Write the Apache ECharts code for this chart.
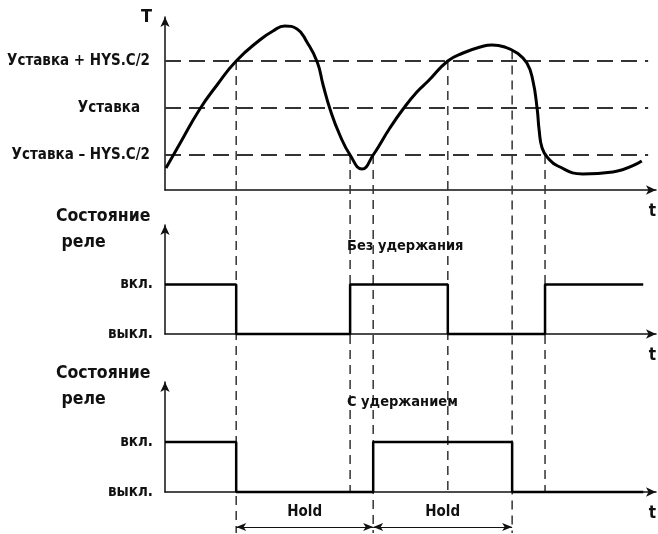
<!DOCTYPE html>
<html><head><meta charset="utf-8">
<script src="https://cdn.jsdelivr.net/npm/echarts@6/dist/echarts.min.js"></script>
<style>html,body{margin:0;padding:0;background:#fff}#c{width:658px;height:534px}</style>
</head><body><div id="c"></div>
<script>
// ---- data ----
const curveTime = [0.2, 3.1, 7.1, 10.6, 14.5, 19.3, 22.0, 24.4, 26.9, 28.9, 31.0, 32.2, 33.6, 35.6, 37.7, 40.1, 42.4, 45.8, 48.5, 51.3, 53.6, 57.6, 60.7, 64.2, 66.6, 69.2, 71.7, 73.7, 74.9, 75.8, 76.2, 76.8, 78.0, 80.0, 85.1, 91.2, 97.1];
const curveTemp = [4.4, 9.4, 16.2, 21.0, 25.8, 30.0, 31.8, 32.8, 32.2, 29.6, 25.6, 21.0, 16.2, 11.0, 7.0, 4.2, 7.0, 12.4, 16.2, 19.6, 21.8, 25.8, 27.4, 28.6, 29.0, 28.6, 27.4, 25.4, 22.0, 16.2, 12.0, 8.4, 6.4, 4.8, 3.2, 3.6, 5.8];
const thresholdValues = [7.0, 16.4, 25.8];
const thresholdLabels = ['Уставка – HYS.C/2', 'Уставка', 'Уставка + HYS.C/2'];
const thresholdEnd = 98.4;
const relayTimesNoHold = [0, 14.5, 37.7, 57.6, 77.4, 97.4];
const relayNoHold = [1, 0, 1, 0, 1, 1];
const relayTimesHold = [0, 14.5, 42.4, 70.7, 97.4];
const relayHold = [1, 0, 1, 0, 0];
const relayTickLabels = ['выкл.', 'вкл.', ''];
const eventTimes = [14.5, 37.7, 42.4, 57.6, 70.7, 77.4];
const eventStartTemp = [25.8, 7.0, 7.0, 25.8, 27.9, 7.0];
const eventIsHoldEdge = [true, false, true, false, true, false];
const holdSpans = [[14.5, 42.4], [42.4, 70.7]];
const holdLabel = 'Hold';
const tempAxisName = 'T';
const timeAxisName = 't';
const relayTitle = 'Состояние\n реле';
const panelTitles = ['Без удержания', 'С удержанием'];

// ---- layout / style ----
const FONT = '"Liberation Sans Narrow","DejaVu Sans Condensed","Roboto Condensed","Arial Narrow",sans-serif';
const INK = '#111';
const DASH = '#333';
const LEFT = 165, RIGHT = 2;
const TOP0 = 17, H0 = 173;
const TEMP_MAX = 34.6;
const OVER_MIN = TEMP_MAX - (534 - 1 - TOP0) / 5;
const HOLD_BOTTOM = OVER_MIN;
const PANEL3_AXIS = (190 - 492) / 5;
const HOLD_ARROW = (190 - 527) / 5;

const chart = echarts.init(document.getElementById('c'), null, {renderer: 'canvas'});

function xAx(gridIndex, show) {
  return {
    type: 'value', gridIndex, min: 0, max: 100, show,
    axisLabel: {show: false}, axisTick: {show: false}, splitLine: {show: false},
    axisLine: {show: true, symbol: ['none', 'arrow'], symbolSize: [7, 10], lineStyle: {color: INK, width: 1.5}},
    name: show ? timeAxisName : '', nameLocation: 'end', nameGap: 0,
    nameTextStyle: {fontFamily: FONT, fontWeight: 'bold', fontSize: 17, color: INK, align: 'right', verticalAlign: 'top', padding: [13, 0, 0, 0]}
  };
}
function relayY(gridIndex) {
  return {
    type: 'value', gridIndex, min: 0, max: 2.2, interval: 1,
    splitLine: {show: false}, axisTick: {show: false},
    axisLine: {show: true, symbol: ['none', 'arrow'], symbolSize: [7, 10], lineStyle: {color: INK, width: 1.5}},
    axisLabel: {margin: 12, formatter: v => relayTickLabels[Math.round(v)] || '', fontFamily: FONT, fontWeight: 'bold', fontSize: 15, color: INK}
  };
}

const thresholdMarks = thresholdValues.map((v, i) => [
  {name: thresholdLabels[i], coord: [0, v], label: {distance: i === 1 ? 25 : 15}},
  {coord: [thresholdEnd, v]}
]);

const guideSeries = eventTimes.map((t, i) => ({
  type: 'line', xAxisIndex: 3, yAxisIndex: 3, symbol: 'none', silent: true, z: 1, clip: false,
  lineStyle: {color: DASH, width: 1.5, type: [9, 6]},
  data: [[t, eventStartTemp[i]], [t, eventIsHoldEdge[i] ? HOLD_BOTTOM : PANEL3_AXIS]]
}));
guideSeries[0].markLine = {
  silent: true, symbol: ['arrow', 'arrow'], symbolSize: [6, 10],
  lineStyle: {color: INK, width: 1, type: 'solid'},
  label: {show: true, position: 'insideMiddleTop', distance: 7, formatter: '{b}', fontFamily: FONT, fontWeight: 'bold', fontSize: 15, color: INK},
  data: holdSpans.map(s => [{name: holdLabel, coord: [s[0], HOLD_ARROW]}, {coord: [s[1], HOLD_ARROW]}])
};

const titleStyle = {fontFamily: FONT, fontWeight: 'bold', fontSize: 17.5, color: INK, lineHeight: 26};
const subStyle = {fontFamily: FONT, fontWeight: 'bold', fontSize: 14.5, color: INK, lineHeight: 18};

chart.setOption({
  animation: false,
  backgroundColor: '#fff',
  title: [
    {text: relayTitle, left: 56, top: 203, padding: 0, textStyle: titleStyle},
    {text: relayTitle, left: 56, top: 360, padding: 0, textStyle: titleStyle},
    {text: panelTitles[0], left: 347, top: 237, padding: 0, textStyle: subStyle},
    {text: panelTitles[1], left: 347, top: 393, padding: 0, textStyle: subStyle}
  ],
  grid: [
    {left: LEFT, right: RIGHT, top: TOP0, height: H0},
    {left: LEFT, right: RIGHT, top: 225, height: 109},
    {left: LEFT, right: RIGHT, top: 382, height: 110},
    {left: LEFT, right: RIGHT, top: TOP0, bottom: 1}
  ],
  xAxis: [xAx(0, true), xAx(1, true), xAx(2, true), Object.assign(xAx(3, false), {show: false})],
  yAxis: [
    {type: 'value', gridIndex: 0, min: 0, max: TEMP_MAX,
     splitLine: {show: false}, axisTick: {show: false}, axisLabel: {show: false},
     axisLine: {show: true, symbol: ['none', 'arrow'], symbolSize: [7, 10], lineStyle: {color: INK, width: 1.5}},
     name: tempAxisName, nameLocation: 'end', nameGap: 0,
     nameTextStyle: {fontFamily: FONT, fontWeight: 'bold', fontSize: 18, color: INK, align: 'right', verticalAlign: 'middle', padding: [0, 13, 0, 0]}},
    relayY(1),
    relayY(2),
    {type: 'value', gridIndex: 3, min: OVER_MIN, max: TEMP_MAX, show: false}
  ],
  series: [
    {type: 'line', xAxisIndex: 0, yAxisIndex: 0, smooth: 0.5, symbol: 'none', z: 3, clip: false,
     lineStyle: {color: '#000', width: 3},
     data: curveTime.map((t, i) => [t, curveTemp[i]]),
     markLine: {silent: true, symbol: 'none', z: 1,
       lineStyle: {color: DASH, width: 2, type: [16, 8]},
       label: {show: true, position: 'start', formatter: '{b}', fontFamily: FONT, fontWeight: 'bold', fontSize: 15, color: INK},
       data: thresholdMarks}},
    {type: 'line', xAxisIndex: 1, yAxisIndex: 1, step: 'end', symbol: 'none', z: 3, clip: false,
     lineStyle: {color: '#000', width: 2.5},
     data: relayTimesNoHold.map((t, i) => [t, relayNoHold[i]])},
    {type: 'line', xAxisIndex: 2, yAxisIndex: 2, step: 'end', symbol: 'none', z: 3, clip: false,
     lineStyle: {color: '#000', width: 2.5},
     data: relayTimesHold.map((t, i) => [t, relayHold[i]])},
    ...guideSeries
  ]
});
</script></body></html>
